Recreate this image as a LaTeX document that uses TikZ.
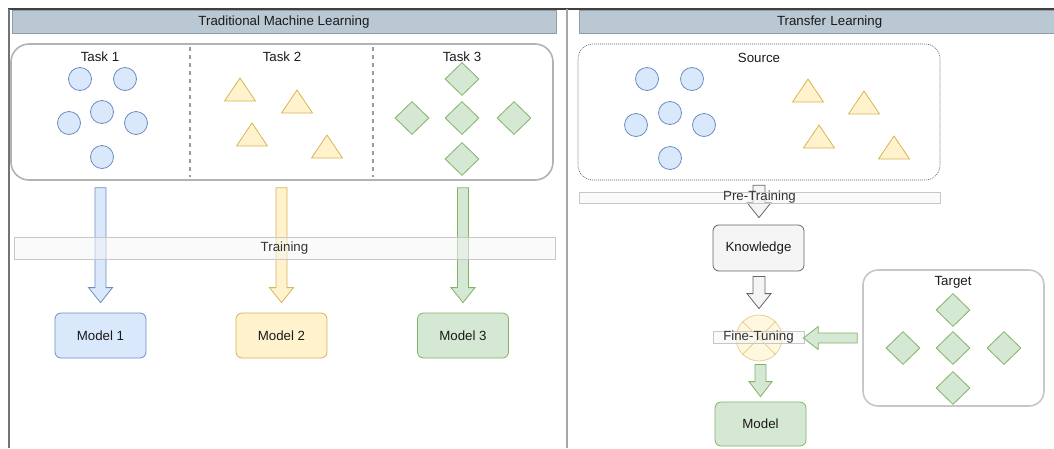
\documentclass[tikz,border=0pt]{standalone}
\usepackage{fontspec}
\setmainfont{Liberation Sans}
\usetikzlibrary{shapes.geometric,calc}
\definecolor{bfill}{HTML}{DAE8FC}\definecolor{bdraw}{HTML}{6C8EBF}
\definecolor{yfill}{HTML}{FFF2CC}\definecolor{ydraw}{HTML}{D6B656}
\definecolor{gfill}{HTML}{D5E8D4}\definecolor{gdraw}{HTML}{82B366}
\definecolor{kfill}{HTML}{F5F5F5}\definecolor{kdraw}{HTML}{666666}
\definecolor{hfill}{HTML}{BAC8D3}\definecolor{hdraw}{HTML}{8E9FAC}
\definecolor{txt}{HTML}{1A1A1A}
% block arrow: style, from, to, shaft half width, head half width (head length 15pt)
\newcommand\blockarrow[5]{%
  \path (#2) coordinate (baA) (#3) coordinate (baB);
  \path ($(baB)!15pt!(baA)$) coordinate (baH);
  \draw[#1] ($(baA)!#4!90:(baB)$) -- ($(baH)!#4!90:(baB)$) -- ($(baH)!#5!90:(baB)$) -- (baB)
    -- ($(baH)!#5!-90:(baB)$) -- ($(baH)!#4!-90:(baB)$) -- ($(baA)!#4!-90:(baB)$) -- cycle;}
\newcommand\ytriangle[2]{\draw[ytri] (#1,#2) -- ++(15.5,23) -- ++(-31,0) -- cycle;}
\tikzset{
  lbl/.style={font=\fontsize{13.3}{15}\selectfont, text=txt, inner sep=0pt},
  hdr/.style={draw=hdraw, fill=hfill, line width=0.8pt, minimum width=#1, minimum height=23pt,
    inner sep=0pt, font=\fontsize{13.3}{15}\selectfont, text=txt},
  bcirc/.style={circle, draw=bdraw, fill=bfill, line width=0.8pt, minimum size=23pt, inner sep=0pt},
  gdiam/.style={diamond, draw=gdraw, fill=gfill, line width=0.8pt, minimum width=34pt,
    minimum height=33pt, inner sep=0pt},
  ytri/.style={draw=ydraw, fill=yfill, line width=0.8pt, line join=miter},
  modelbox/.style={rounded corners=6pt, minimum width=91pt, minimum height=45pt, line width=0.8pt,
    inner sep=0pt, font=\fontsize{13.3}{15}\selectfont, text=txt},
  bar/.style={draw=black!22, fill=kfill, fill opacity=0.55, line width=0.6pt, inner sep=0pt},
  barr/.style={draw=bdraw, fill=bfill, line width=0.8pt, line join=miter},
  yarr/.style={draw=ydraw, fill=yfill, line width=0.8pt, line join=miter},
  garr/.style={draw=gdraw, fill=gfill, line width=0.8pt, line join=miter},
  karr/.style={draw=kdraw, fill=kfill, line width=0.8pt, line join=miter},
}
\begin{document}
\begin{tikzpicture}[x=1pt,y=-1pt]
\useasboundingbox (0,0) rectangle (1054,448);
% frame
\draw[black!75, line width=1.2pt] (8,9) -- (1054,9);
\draw[black!55, line width=2pt] (8.5,9) -- (8.5,448);
\draw[black!35, line width=2pt] (567,9) -- (567,448);
% headers
\node[hdr=544pt] (hdrL) at (284,22) {Traditional Machine Learning};
\node[hdr=478pt, text width=474pt, align=left] (hdrR) at (818,22) {\hspace*{196pt}Transfer Learning};

% ---------------- left: traditional ML
\node[draw=black!30, line width=1.6pt, rounded corners=18pt, minimum width=542pt, minimum height=136pt, inner sep=0pt] (boxL) at (282,112) {};
\draw[black!40, line width=1.2pt, dash pattern=on 4pt off 4pt] (190,47) -- (190,177);
\draw[black!40, line width=1.2pt, dash pattern=on 4pt off 4pt] (373,47) -- (373,177);
\node[lbl] (t1) at (100,56.5) {Task 1};
\node[lbl] (t2) at (282,56.5) {Task 2};
\node[lbl] (t3) at (462,56.5) {Task 3};
% task 1 circles
\node[bcirc] (c1) at (80,79) {};
\node[bcirc] (c2) at (125,79) {};
\node[bcirc] (c3) at (102,112) {};
\node[bcirc] (c4) at (69,123) {};
\node[bcirc] (c5) at (136,123) {};
\node[bcirc] (c6) at (102,157) {};
% task 2 triangles
\ytriangle{240}{78}
\ytriangle{297}{90}
\ytriangle{252}{123}
\ytriangle{327}{135}
% task 3 diamonds
\node[gdiam] (d1) at (462,79) {};
\node[gdiam] (d2) at (462,118) {};
\node[gdiam] (d3) at (412,118) {};
\node[gdiam] (d4) at (514,118) {};
\node[gdiam] (d5) at (462,159) {};
% models
\node[modelbox, draw=bdraw, fill=bfill] (m1) at (100.5,335.5) {Model 1};
\node[modelbox, draw=ydraw, fill=yfill] (m2) at (281.5,335.5) {Model 2};
\node[modelbox, draw=gdraw, fill=gfill] (m3) at (463,335.5) {Model 3};
% arrows
\blockarrow{barr}{$(boxL.south -| m1.north)+(0,7)$}{$(m1.north)+(0,-10)$}{5.5pt}{12pt}
\blockarrow{yarr}{$(boxL.south -| m2.north)+(0,7)$}{$(m2.north)+(0,-10)$}{5.5pt}{12pt}
\blockarrow{garr}{$(boxL.south -| m3.north)+(0,7)$}{$(m3.north)+(0,-10)$}{5.5pt}{12pt}
% training bar
\node[bar, minimum width=541pt, minimum height=22pt] (trainbar) at (284.5,248) {};
\node[lbl, text=black!80] (train) at (trainbar.center) {Training};

% ---------------- right: transfer learning
\node[draw=black!65, line width=0.6pt, dash pattern=on 1pt off 1pt, rounded corners=15pt, minimum width=362pt, minimum height=136pt, inner sep=0pt] (src) at (759,112) {};
\node[lbl] (srclbl) at (759,57.5) {Source};
\node[bcirc] (s1) at (647,79) {};
\node[bcirc] (s2) at (692,79) {};
\node[bcirc] (s3) at (670,113) {};
\node[bcirc] (s4) at (636,125) {};
\node[bcirc] (s5) at (704,125) {};
\node[bcirc] (s6) at (670,158) {};
\ytriangle{808}{79}
\ytriangle{864}{91}
\ytriangle{819}{125}
\ytriangle{894}{136}

\node[modelbox, draw=kdraw, fill=kfill, minimum height=46pt] (know) at (758.5,248) {Knowledge};
\node[circle, draw=ydraw, fill=yfill, draw opacity=0.6, fill opacity=0.6, line width=0.8pt, minimum size=46pt, inner sep=0pt] (sum) at (759,338) {};
\draw[ydraw, draw opacity=0.6, line width=0.8pt] (sum.north west) -- (sum.south east) (sum.north east) -- (sum.south west);
\node[modelbox, draw=gdraw, fill=gfill, minimum height=44pt] (model) at (760.5,424) {Model};

\node[draw=black!22, line width=1.6pt, rounded corners=15pt, minimum width=181pt, minimum height=136pt, inner sep=0pt] (tgt) at (953.5,338) {};
\node[lbl] (tgtlbl) at (953,282.5) {Target};
\node[gdiam] (e1) at (953,310) {};
\node[gdiam] (e2) at (953,348) {};
\node[gdiam] (e3) at (903,348) {};
\node[gdiam] (e4) at (1004,348) {};
\node[gdiam] (e5) at (953,388) {};

% arrows
\blockarrow{karr}{$(src.south -| know.north)+(0.5,5)$}{$(know.north)+(0.5,-7)$}{6pt}{12pt}
\blockarrow{karr}{$(know.south)+(0.5,5)$}{$(sum.north)+(0,-6)$}{6pt}{12pt}
\blockarrow{garr}{$(sum.south)+(1.5,3)$}{$(model.north)+(0,-5)$}{5.5pt}{11.5pt}

% bars over arrows
\node[bar, minimum width=361pt, minimum height=11pt] (prebar) at (759.5,197.5) {};
\node[lbl, text=black!80] (pre) at (prebar.center) {Pre-Training};
\node[bar, minimum width=91pt, minimum height=12pt] (finebar) at (758.5,337) {};
\node[lbl, text=black!80] (fine) at (finebar.center) {Fine-Tuning};
\blockarrow{garr}{$(tgt.west)+(-5,0)$}{$(finebar.east)+(-1,1)$}{5pt}{11.5pt}
\end{tikzpicture}
\end{document}
